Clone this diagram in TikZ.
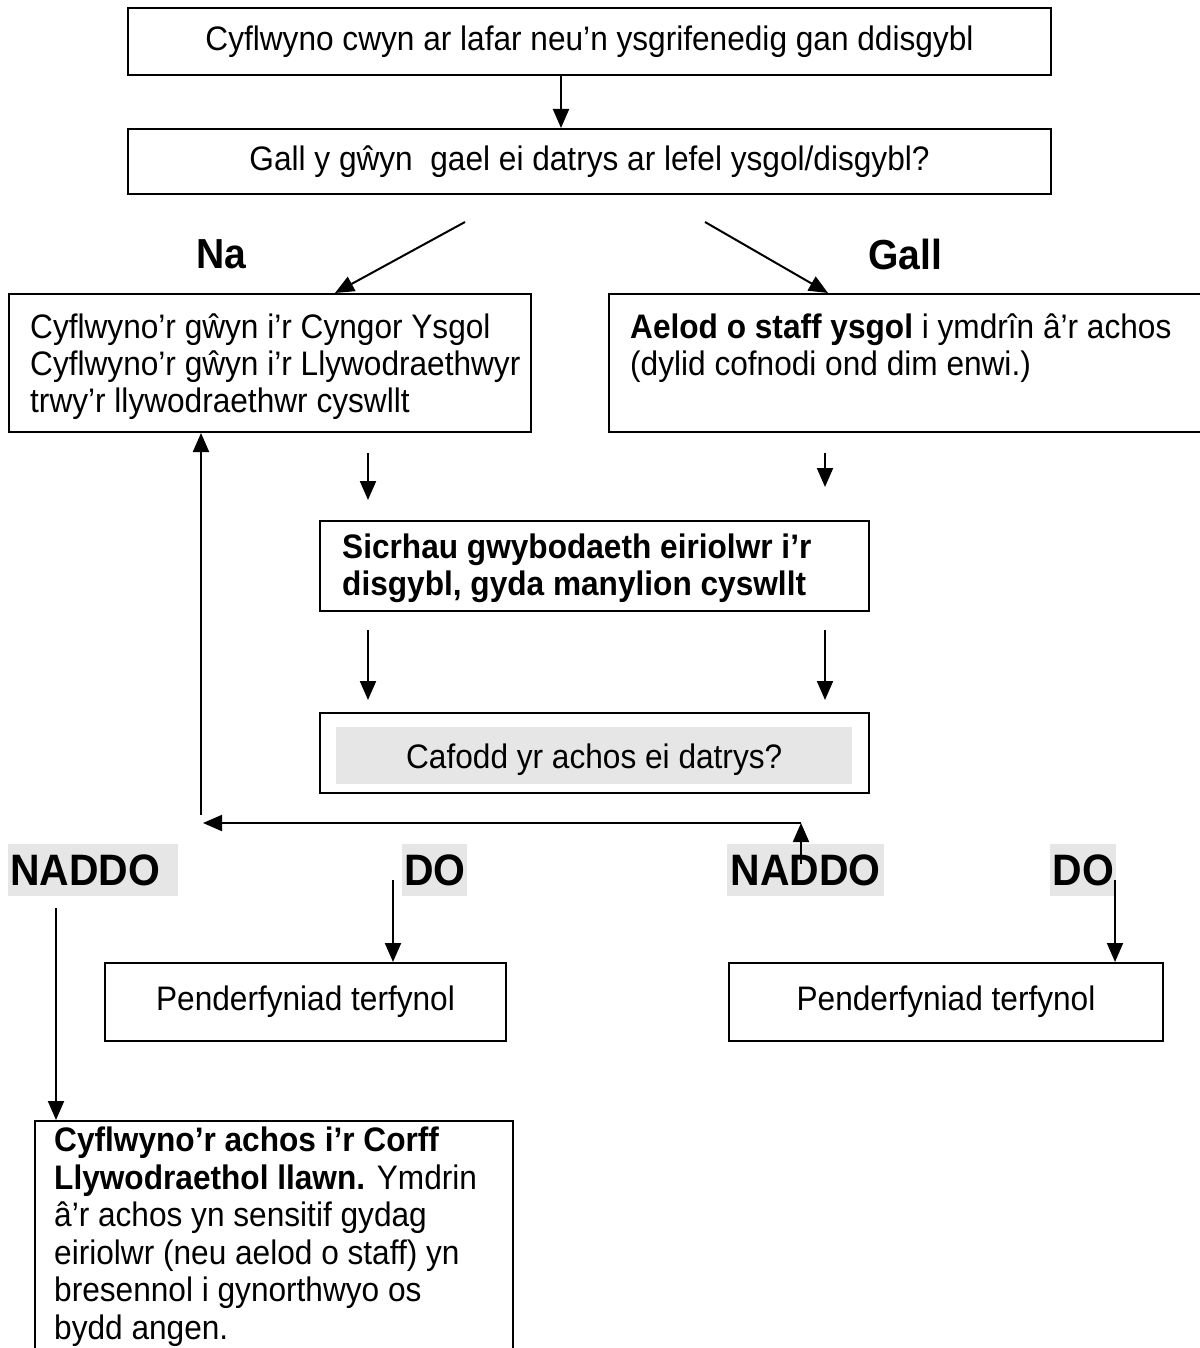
\documentclass[tikz,border=0pt]{standalone}
\usepackage{fontspec}
\setmainfont{Liberation Sans}[FakeStretch=0.93]
\usetikzlibrary{arrows.meta}
\definecolor{hl}{RGB}{230,230,230}
\begin{document}
\begin{tikzpicture}[x=1pt,y=-1pt,
  box/.style={draw,line width=2pt,inner sep=0pt,anchor=north west},
  body/.style={font=\fontsize{34}{37}\selectfont},
  txt/.style={body,inner sep=0pt,anchor=north west,align=left},
  arr/.style={line width=2pt,-{Triangle[length=19pt,width=16pt]}},
  lab/.style={font=\fontsize{42}{45}\selectfont\bfseries,inner sep=0pt},
  ans/.style={font=\fontsize{44}{48}\selectfont\bfseries,fill=hl,inner sep=0pt,anchor=north west,minimum height=52pt,text depth=0pt}]
\useasboundingbox (0,0) rectangle (1199,1348);

% boxes
\node[box,body,minimum width=923pt,minimum height=67pt] (b1) at (127,7) {Cyflwyno cwyn ar lafar neu’n ysgrifenedig gan ddisgybl};
\node[box,body,minimum width=923pt,minimum height=65pt] (b2) at (127,128) {Gall y gŵyn~ gael ei datrys ar lefel ysgol/disgybl?};

\node[box,minimum width=522pt,minimum height=138pt] (b3) at (8,293) {};
\node[txt] (t3) at (30,314) {Cyflwyno’r gŵyn i’r Cyngor Ysgol\\Cyflwyno’r gŵyn i’r Llywodraethwyr\\trwy’r llywodraethwr cyswllt};

\node[box,minimum width=600pt,minimum height=138pt] (b4) at (608,293) {};
\node[txt] (t4) at (630,314) {\textbf{Aelod o staff ysgol} i ymdrîn â’r achos\\(dylid cofnodi ond dim enwi.)};

\node[box,minimum width=549pt,minimum height=90pt] (b5) at (319,520) {};
\node[txt,font=\fontsize{34}{37}\selectfont\bfseries] (t5) at (342,534) {Sicrhau gwybodaeth eiriolwr i’r\\disgybl, gyda manylion cyswllt};

\node[box,minimum width=549pt,minimum height=80pt] (b6) at (319,712) {};
\node[body,fill=hl,inner sep=0pt,minimum width=516pt,minimum height=57pt,text depth=0pt,anchor=north west] (g6) at (336,727) {Cafodd yr achos ei datrys?};

\node[box,body,minimum width=401pt,minimum height=78pt] (b7) at (104,962) {Penderfyniad terfynol};
\node[box,body,minimum width=434pt,minimum height=78pt] (b8) at (728,962) {Penderfyniad terfynol};

\node[box,minimum width=478pt,minimum height=260pt] (b9) at (34,1120) {};
\node[txt,font=\fontsize{34}{37.5}\selectfont] (t9) at (54,1127) {\textbf{Cyflwyno’r achos i’r Corff}\\\textbf{Llywodraethol llawn.} Ymdrin\\â’r achos yn sensitif gydag\\eiriolwr (neu aelod o staff) yn\\bresennol i gynorthwyo os\\bydd angen.};

% labels
\node[lab] (na) at (221,254) {Na};
\node[lab] (gall) at (905,254) {Gall};
\node[ans,minimum width=170pt,text width=166pt,align=left] (n1) at (8,844) {NADDO};
\node[ans,minimum width=65pt] (d1) at (402,844) {DO};
\node[ans,minimum width=157pt] (n2) at (727,844) {NADDO};
\node[ans,minimum width=66pt] (d2) at (1050,844) {DO};

% connectors
\coordinate (a1) at (561,0);
\draw[arr] (a1 |- b1.south) -- (a1 |- b2.north);
\coordinate (s1) at (465,222);
\coordinate (e1) at (335,0);
\draw[arr] (s1) -- (e1 |- b3.north);
\coordinate (s2) at (705,222);
\coordinate (e2) at (828,0);
\draw[arr] (s2) -- (e2 |- b4.north);

\coordinate (c1) at (368,453);
\coordinate (c1e) at (368,500);
\draw[arr] (c1) -- (c1e);
\coordinate (c2) at (825,453);
\coordinate (c2e) at (825,487);
\draw[arr] (c2) -- (c2e);
\coordinate (c3) at (368,630);
\coordinate (c3e) at (368,700);
\draw[arr] (c3) -- (c3e);
\coordinate (c4) at (825,630);
\coordinate (c4e) at (825,700);
\draw[arr] (c4) -- (c4e);

\coordinate (u0) at (801,864);
\coordinate (u1) at (801,823);
\coordinate (h1) at (203,823);
\draw[arr] (u0) -- (u1);
\draw[arr] (u1) -- (h1);
\coordinate (v0) at (201,815);
\draw[arr] (v0) -- (v0 |- b3.south);

\coordinate (p1) at (393,880);
\draw[arr] (p1) -- (p1 |- b7.north);
\coordinate (p2) at (1115,880);
\draw[arr] (p2) -- (p2 |- b8.north);
\coordinate (q1) at (56,908);
\draw[arr] (q1) -- (q1 |- b9.north);
\end{tikzpicture}
\end{document}
